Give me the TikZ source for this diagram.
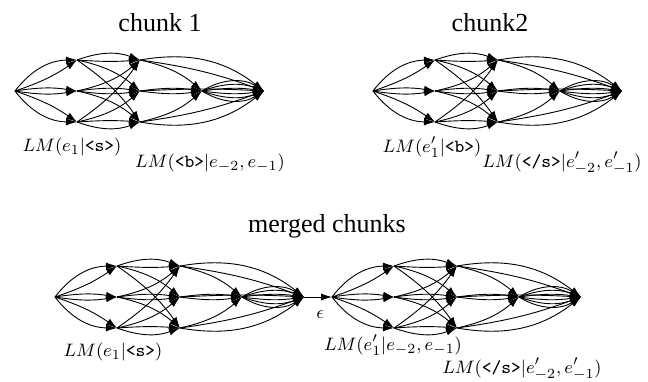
\documentclass[tikz,border=0pt]{standalone}
\usepackage{fontspec}
\newfontfamily\titlefont{Liberation Serif}
\usetikzlibrary{arrows.meta}
\tikzset{chunk/.pic={
  \coordinate (-s) at (0,0);
  \coordinate (-a1) at (62,-31);
  \coordinate (-a2) at (62,0);
  \coordinate (-a3) at (62,31);
  \coordinate (-b1) at (125,-31);
  \coordinate (-b2) at (125,0);
  \coordinate (-b3) at (125,31);
  \coordinate (-d) at (187,0);
  \coordinate (-e) at (249,0);
  \draw[arr] (-s) to[bend left=26] (-a1);
  \draw[arr] (-s) to[bend right=8] (-a1);
  \draw[arr] (-s) to[bend left=9] (-a2);
  \draw[arr] (-s) to[bend right=9] (-a2);
  \draw[arr] (-s) to[bend right=26] (-a3);
  \draw[arr] (-s) to[bend left=8] (-a3);
  \draw[arr] (-a1) to[bend left=20] (-b1);
  \draw[arr] (-a1) to[bend right=4] (-b1);
  \draw[arr] (-a2) to[bend left=8] (-b2);
  \draw[arr] (-a2) to[bend right=8] (-b2);
  \draw[arr] (-a3) to[bend right=20] (-b3);
  \draw[arr] (-a3) to[bend left=4] (-b3);
  \draw[arr] (-a1) to[bend left=14] (-b2);
  \draw[arr] (-a1) to[bend left=10] (-b3);
  \draw[arr] (-a2) to[bend left=14] (-b3);
  \draw[arr] (-a2) to[bend right=14] (-b1);
  \draw[arr] (-a3) to[bend right=10] (-b1);
  \draw[arr] (-a3) to[bend right=14] (-b2);
  \draw[arr] (-b1) to[bend left=14] (-d);
  \draw[arr] (-b2) to[bend left=8] (-d);
  \draw[arr] (-b2) to[bend right=8] (-d);
  \draw[arr] (-b3) to[bend right=14] (-d);
  \draw[arr] (-b1) to[bend left=24] (-e);
  \draw[arr] (-b1) to[bend left=6] (-e);
  \draw[arr] (-b3) to[bend right=24] (-e);
  \draw[arr] (-b3) to[bend right=6] (-e);
  \draw[arr] (-b2) to[bend left=3] (-e);
  \foreach \k in {-32,-20,-8,8,20,32} \draw[arr] (-d) to[bend left=\k] (-e);
}}
\begin{document}
\begin{tikzpicture}[x=0.5pt,y=-0.5pt,
  arr/.style={-{Latex[length=5.5pt,width=3.6pt]},line width=0.45pt},
  lbl/.style={inner sep=0pt,font=\fontsize{9.3}{11}\selectfont},
  ttl/.style={inner sep=0pt,anchor=base,font=\titlefont\fontsize{13}{15}\selectfont}]
\useasboundingbox (0,0) rectangle (648,381);
\pic (c1) at (15,91) {chunk};
\pic (c2) at (373,91) {chunk};
\pic (m1) at (55,297) {chunk};
\pic (m2) at (332,297) {chunk};
\draw[arr] (m1-e) -- (m2-s);
\node[ttl] (t1) at (160,31) {chunk 1};
\node[ttl] (t2) at (490,31) {chunk2};
\node[ttl] (t3) at (327,232) {merged chunks};
\node[lbl] (l1) at (72,147) {$LM(e_1|\texttt{<s>})$};
\node[lbl] (l2) at (210,163) {$LM(\texttt{<b>}|e_{-2},e_{-1})$};
\node[lbl] (l3) at (432,147) {$LM(e'_1|\texttt{<b>})$};
\node[lbl] (l4) at (562,163) {$LM(\texttt{</s>}|e'_{-2},e'_{-1})$};
\node[lbl] (l5) at (113,352) {$LM(e_1|\texttt{<s>})$};
\node[lbl] (l6) at (393,345) {$LM(e'_1|e_{-2},e_{-1})$};
\node[lbl] (l7) at (522,369) {$LM(\texttt{</s>}|e'_{-2},e'_{-1})$};
\node[lbl] (eps) at (320,315) {$\epsilon$};
\end{tikzpicture}
\end{document}
